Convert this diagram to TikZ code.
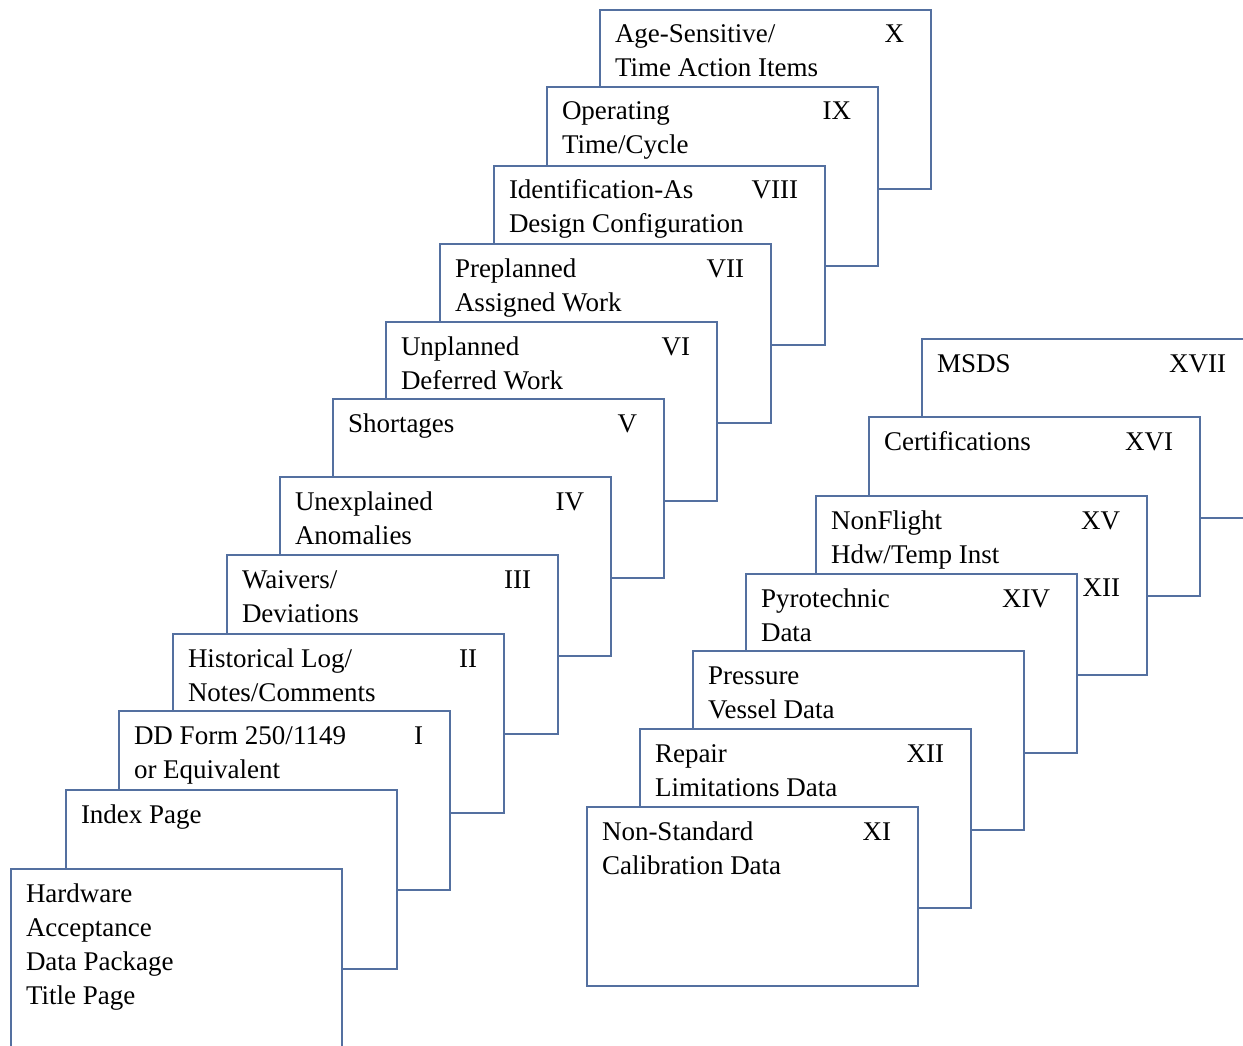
\documentclass[tikz,border=0pt]{standalone}
\usepackage{fontspec}
\setmainfont{Liberation Serif}
\definecolor{cardblue}{RGB}{84,112,160}
\tikzset{
  cardbox/.style={draw=cardblue, line width=1.8pt, fill=white, anchor=north west,
    minimum width=331pt, minimum height=179pt, inner sep=0pt, outer sep=0pt},
  lbl/.style={inner sep=0pt, outer sep=0pt, font=\fontsize{27}{32}\selectfont, text=black}
}
\newcommand\mkcard[4]{%
  \node[cardbox] (#1) at (#2,#3) {};
  \node[lbl, anchor=base east] (#1-n) at ([xshift=-27pt,yshift=-33pt]#1.north east) {#4};
}
\newcommand\cardline[3]{%
  \node[lbl, anchor=base west] (#1-l#2) at ([xshift=15pt,yshift={-33pt-(#2-1)*34pt}]#1.north west) {#3};
}
\begin{document}
\begin{tikzpicture}[x=1pt,y=-1pt]
\useasboundingbox (0,0) rectangle (1243,1046);
\clip (0,0) rectangle (1243,1046);
% left stack, back to front
\mkcard{cX}{600}{10}{X}
\cardline{cX}{1}{Age-Sensitive/}
\cardline{cX}{2}{Time Action Items}
\mkcard{cIX}{547}{87}{IX}
\cardline{cIX}{1}{Operating}
\cardline{cIX}{2}{Time/Cycle}
\mkcard{cVIII}{494}{166}{VIII}
\cardline{cVIII}{1}{Identification-As}
\cardline{cVIII}{2}{Design Configuration}
\mkcard{cVII}{440}{244}{VII}
\cardline{cVII}{1}{Preplanned}
\cardline{cVII}{2}{Assigned Work}
\mkcard{cVI}{386}{322}{VI}
\cardline{cVI}{1}{Unplanned}
\cardline{cVI}{2}{Deferred Work}
\mkcard{cV}{333}{399}{V}
\cardline{cV}{1}{Shortages}
\mkcard{cIV}{280}{477}{IV}
\cardline{cIV}{1}{Unexplained}
\cardline{cIV}{2}{Anomalies}
\mkcard{cIII}{227}{555}{III}
\cardline{cIII}{1}{Waivers/}
\cardline{cIII}{2}{Deviations}
\mkcard{cII}{173}{634}{II}
\cardline{cII}{1}{Historical Log/}
\cardline{cII}{2}{Notes/Comments}
\mkcard{cI}{119}{711}{I}
\cardline{cI}{1}{DD Form 250/1149}
\cardline{cI}{2}{or Equivalent}
\mkcard{cIdx}{66}{790}{}
\cardline{cIdx}{1}{Index Page}
\mkcard{cHw}{11}{869}{}
\cardline{cHw}{1}{Hardware}
\cardline{cHw}{2}{Acceptance}
\cardline{cHw}{3}{Data Package}
\cardline{cHw}{4}{Title Page}
% right stack, back to front
\mkcard{cXVII}{922}{339}{XVII}
\cardline{cXVII}{1}{MSDS}
\mkcard{cXVI}{869}{417}{XVI}
\cardline{cXVI}{1}{Certifications}
\mkcard{cXV}{816}{496}{XV}
\cardline{cXV}{1}{NonFlight}
\cardline{cXV}{2}{Hdw/Temp Inst}
\node[lbl, anchor=base east] (cXV-x) at ([xshift=-27pt,yshift=-100pt]cXV.north east) {XII};
\mkcard{cXIV}{746}{574}{XIV}
\cardline{cXIV}{1}{Pyrotechnic}
\cardline{cXIV}{2}{Data}
\mkcard{cPV}{693}{651}{}
\cardline{cPV}{1}{Pressure}
\cardline{cPV}{2}{Vessel Data}
\mkcard{cXII}{640}{729}{XII}
\cardline{cXII}{1}{Repair}
\cardline{cXII}{2}{Limitations Data}
\mkcard{cXI}{587}{807}{XI}
\cardline{cXI}{1}{Non-Standard}
\cardline{cXI}{2}{Calibration Data}
\end{tikzpicture}
\end{document}
